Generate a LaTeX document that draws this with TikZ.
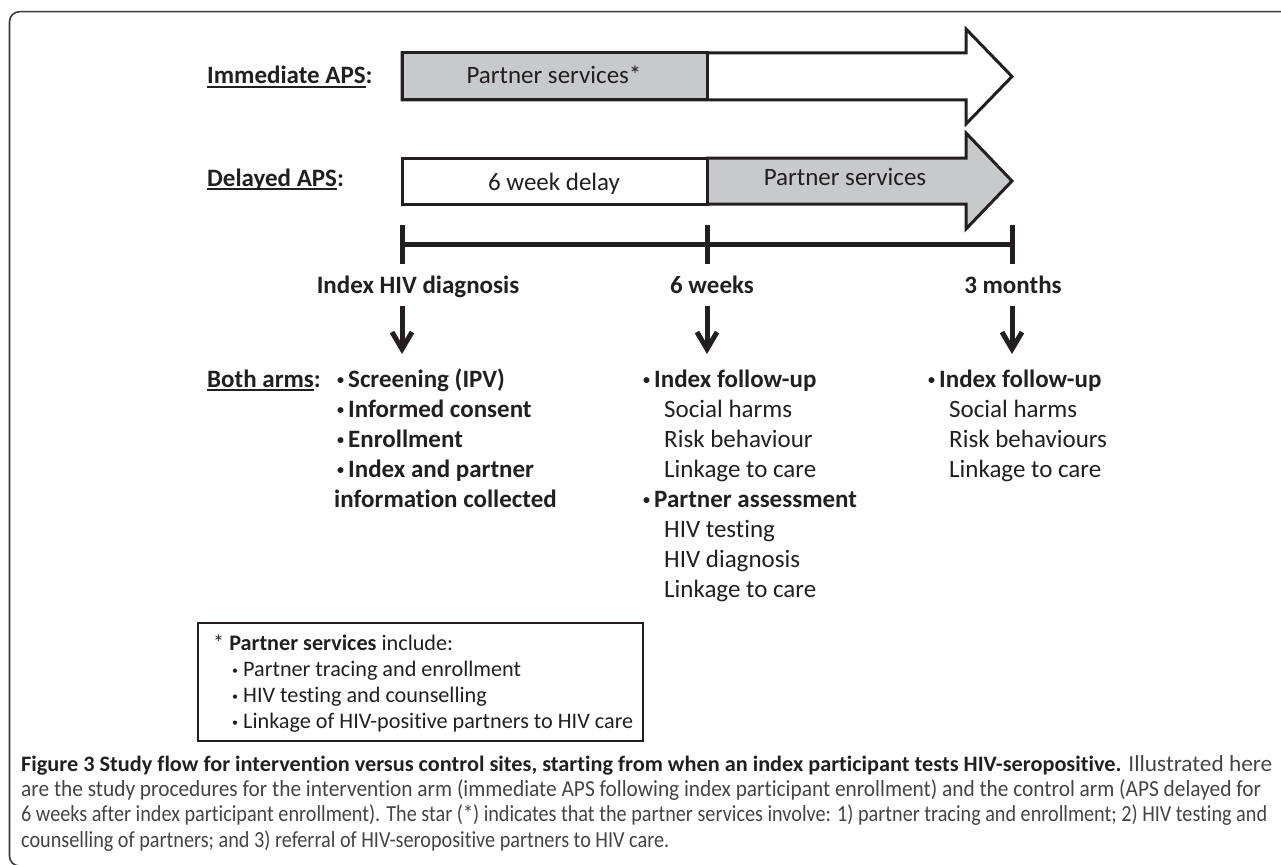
\documentclass[tikz,border=0pt]{standalone}
\usepackage{fontspec}
\setmainfont{Carlito}[Ligatures=NoCommon]
\usepackage{xcolor}
\usepackage{graphicx}
\definecolor{ink}{HTML}{231F20}
\definecolor{psgray}{HTML}{C8C9CB}
\definecolor{capgray}{HTML}{444444}
\definecolor{framegray}{HTML}{3A3A3A}
\usetikzlibrary{arrows.meta}
\newcommand{\ulbox}[1]{\leavevmode\setbox0\hbox{#1}\rlap{\rule[-4pt]{\wd0}{2pt}}\box0}
\newcommand{\itembul}{\makebox[15pt][l]{\hspace{4pt}\raisebox{2.5pt}{\fontsize{14}{14}\selectfont\textbullet}}}
\newcommand{\notebul}{\makebox[12pt][l]{\hspace{1pt}\raisebox{2pt}{\fontsize{12}{12}\selectfont\textbullet}}}
\newcommand{\capline}[2]{\resizebox{#1}{\height}{#2}}

\begin{document}
\begin{tikzpicture}[x=1pt,y=-1pt,
  txt/.style={font=\fontsize{25}{30}\selectfont, text=ink, inner sep=0pt, anchor=base west},
  txtb/.style={txt, font=\fontsize{25}{30}\selectfont\bfseries},
  midtxt/.style={txt, anchor=base},
  midtxtb/.style={txtb, anchor=base},
  notetxt/.style={font=\fontsize{22.2}{26}\selectfont, text=ink, inner sep=0pt, anchor=base west},
  captxt/.style={font=\fontsize{23}{25}\selectfont, text=capgray, inner sep=0pt, anchor=base west},
  bar/.style={draw=ink, line width=3pt, line join=miter},
  tl/.style={draw=ink, line width=5pt},
  down/.style={draw=ink, line width=5pt, -{Straight Barb[length=17pt,width=20pt]}}]
\useasboundingbox (0,0) rectangle (1281,864);
\draw[framegray, line width=1.6pt, rounded corners=10pt] (9.5,11.7) rectangle (1300,866);

% arms
\node[txtb] (imm) at (207,84) {\ulbox{Immediate APS}:};
\node[txtb] (del) at (207,186) {\ulbox{Delayed APS}:};

\draw[bar, fill=white] (402,53) -- (966,53) -- (966,29) -- (1012,76.5) -- (966,124) -- (966,100) -- (402,100) -- cycle;
\draw[bar, fill=psgray] (402,53) rectangle (707,100);
\node[midtxt] (ps1) at (554,84) {Partner services*};

\draw[bar, fill=psgray] (707,158) -- (966,158) -- (966,133) -- (1012,181) -- (966,229) -- (966,204) -- (707,204) -- cycle;
\draw[bar, fill=white] (402,158) rectangle (707,204);
\node[midtxt] (wait) at (554,190) {6 week delay};
\node[midtxt] (ps2) at (845,185) {Partner services};

% timeline
\coordinate (t0) at (402,244);
\coordinate (t1) at (707,244);
\coordinate (t2) at (1012,244);
\draw[tl] (t0) -- (t2);
\foreach \n in {0,1,2}{
\draw[tl] (t\n) ++(0,-19) -- ++(0,39);
}
\node[midtxtb] (diag) at (418,293) {Index HIV diagnosis};
\node[midtxtb] (wk6) at (712,293) {6 weeks};
\node[midtxtb] (mo3) at (1013,293) {3 months};

\foreach \n/\x in {0/402,1/707,2/1012}{
\coordinate (a\n) at (\x,306);
\coordinate (b\n) at (\x,354);
\draw[down] (a\n) -- (b\n);
}

% both arms
\node[txtb] (both) at (207,387) {\ulbox{Both arms}:};
\foreach \t [count=\i] in {Screening (IPV),Informed consent,Enrollment,Index and partner}{
\node[txtb] (l\i) at (333,357+30*\i) {\itembul\t};
}
\node[txtb] (l5) at (334,507) {information collected};

% 6 weeks
\node[txtb] (m1) at (639,387) {\itembul Index follow-up};
\foreach \t [count=\i] in {Social harms,Risk behaviour,Linkage to care}{
\node[txt] (ma\i) at (664,387+30*\i) {\t};
}
\node[txtb] (m2) at (639,507) {\itembul Partner assessment};
\foreach \t [count=\i] in {HIV testing,HIV diagnosis,Linkage to care}{
\node[txt] (mb\i) at (664,507+30*\i) {\t};
}

% 3 months
\node[txtb] (r1) at (924,387) {\itembul Index follow-up};
\foreach \t [count=\i] in {Social harms,Risk behaviours,Linkage to care}{
\node[txt] (ra\i) at (949,387+30*\i) {\t};
}

% footnote
\draw[draw=ink, line width=1.5pt] (198,623) rectangle (643,741);
\node[notetxt] (n0) at (213,650) {* \textbf{Partner services} include:};
\foreach \t [count=\i] in {Partner tracing and enrollment,HIV testing and counselling,Linkage of HIV-positive partners to HIV care}{
\node[notetxt] (n\i) at (231,650+26*\i) {\notebul\t};
}

% caption
\node[captxt] (c1) at (21,771) {\capline{1251pt}{\textcolor{ink}{\fontsize{22}{25}\selectfont\bfseries Figure 3 Study flow for intervention versus control sites, starting from when an index participant tests HIV-seropositive.} Illustrated here}};
\node[captxt] (c2) at (21,796) {\capline{1240pt}{are the study procedures for the intervention arm (immediate APS following index participant enrollment) and the control arm (APS delayed for}};
\node[captxt] (c3) at (21,821) {\capline{1246pt}{6 weeks after index participant enrollment). The star (*) indicates that the partner services involve: 1) partner tracing and enrollment; 2) HIV testing and}};
\node[captxt] (c4) at (21,847) {\capline{648pt}{counselling of partners; and 3) referral of HIV-seropositive partners to HIV care.}};
\end{tikzpicture}
\end{document}
